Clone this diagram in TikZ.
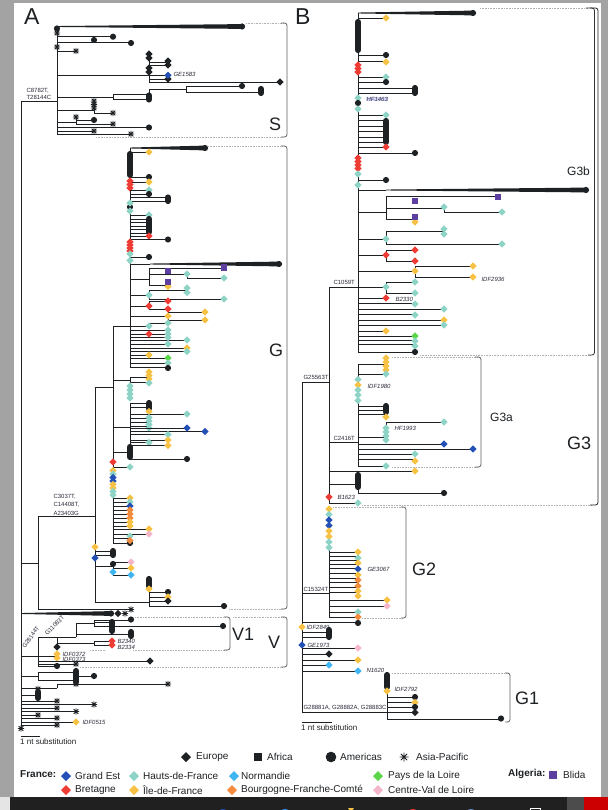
\documentclass[tikz,border=0pt]{standalone}
\usepackage{fontspec}
\setmainfont{Liberation Sans}
\definecolor{cGE}{HTML}{2350B5}
\definecolor{cHF}{HTML}{8ED4C6}
\definecolor{cNO}{HTML}{3FB5F2}
\definecolor{cPL}{HTML}{5BD64B}
\definecolor{cBR}{HTML}{EE3B34}
\definecolor{cIF}{HTML}{F7C244}
\definecolor{cBF}{HTML}{F28B3D}
\definecolor{cCV}{HTML}{F5B6C9}
\definecolor{cBL}{HTML}{5C3F9E}
\definecolor{cK}{HTML}{1E2124}
\definecolor{cTx}{HTML}{2A2A3A}
\definecolor{cFrame}{HTML}{A3A3A3}
\definecolor{cBar}{HTML}{202020}
\newcommand\qH[3]{\draw[tr] (#1,#3) -- (#2,#3);}
\newcommand\qV[3]{\draw[tr] (#1,#2) -- (#1,#3);}
\newcommand\qD[3]{\fill[#3] (#1,#2) +(0,-3.6) -- +(3.6,0) -- +(0,3.6) -- +(-3.6,0) -- cycle;}
\newcommand\qC[2]{\fill[cK] (#1,#2) circle (3.1pt);}
\newcommand\qA[2]{\draw[cK, line width=0.75pt] (#1,#2) +(-3.2,0) -- +(3.2,0) +(0,-3.2) -- +(0,3.2) +(-2.3,-2.3) -- +(2.3,2.3) +(-2.3,2.3) -- +(2.3,-2.3);}
\newcommand\qS[3]{\fill[#3] (#1,#2) +(-3.3,-3.3) rectangle +(3.3,3.3);}
\newcommand\qCS[3]{\draw[cK, line width=6.2pt, line cap=round] (#1,#2) -- (#1,#3);}
\newcommand\qDL[3]{\foreach \yy in {#2}{\qD{#1}{\yy}{#3}}}
\newcommand\qW[3]{\fill[cK] (#1,{#3-0.45}) -- (#2,{#3-2.4}) -- (#2,{#3+2.4}) -- (#1,{#3+0.45}) -- cycle; \qC{#2}{#3}}
\begin{document}
\begin{tikzpicture}[x=1pt,y=-1pt,
  tr/.style={line width=0.9pt, draw=cK},
  dt/.style={draw=gray!60, densely dotted, line width=0.6pt},
  brk/.style={draw=gray!75!black, line width=0.8pt, rounded corners=2.5pt},
  lab/.style={font=\fontsize{6}{7}\selectfont, anchor=west, inner sep=0.3pt, text=cTx},
  labi/.style={lab, font=\fontsize{6}{7}\selectfont\itshape},
  big/.style={font=\fontsize{18}{18}\selectfont, anchor=west, inner sep=0pt, text=cK},
  mid/.style={font=\fontsize{12}{12}\selectfont, anchor=west, inner sep=0pt, text=cK},
  pan/.style={font=\fontsize{23}{23}\selectfont, anchor=west, inner sep=0pt, text=cK},
  leg/.style={font=\fontsize{10}{11}\selectfont, anchor=west, inner sep=0pt, text=cK},
  scl/.style={font=\fontsize{8}{9}\selectfont, anchor=west, inner sep=0pt, text=cK}]
\useasboundingbox (0,0) rectangle (608,810);
% frame and page
\fill[cFrame] (0,0) rectangle (608,810);
\fill[white] (14,3) rectangle (601,797);
\fill[gray!20] (0,797) rectangle (10,810);
\fill[cBar] (10,797) rectangle (567,810);
\fill[gray!60!black] (567,797) rectangle (584,810);
\fill[red!80!black] (584,797) rectangle (608,810);
\begin{scope}
\clip (10,797) rectangle (608,810);
\fill[cGE] (223,815) circle (6pt);
\fill[cNO!80!blue] (285,815) circle (6pt);
\fill[cIF] (351,812) -- (348,808) -- (354,808) -- cycle;
\fill[cBR] (413,815) circle (6pt);
\fill[cGE!70!white] (471,815) circle (6pt);
\draw[white, line width=0.8pt] (530,808) rectangle (540,818);
\end{scope}
% ================= PANEL A =================
\node[pan] (tA) at (24,17) {A};
\qV{21}{101}{728}
\qH{21}{57}{101}
\node[lab] (mS1) at (26,90.5) {C8782T,};
\node[lab] (mS2) at (26,97) {T28144C};
% S clade
\qV{57}{26.5}{134}
\qW{57}{242}{26.5}
\qH{57}{113}{36.7} \qH{57}{131}{42.8}
\qC{57}{28.5} \qA{57}{33}
\qC{94}{40} \qC{113}{36.7} \qC{131}{43}
\qA{57}{47} \qH{57}{76}{51} \qA{76}{51}
\qH{57}{168}{75.3} \qV{149}{54}{82}
\qH{149}{168}{62} \qH{149}{168}{65} \qH{149}{168}{79} \qH{149}{280}{82}
\qDL{149}{54,58,68,72}{cK}
\qD{168}{61}{cK} \qD{168}{65}{cK} \qD{168}{79}{cK} \qD{280}{82}{cK}
\qD{168}{75.3}{cGE}
\node[labi] (lGE1583) at (173,74.5) {GE1583};
\qH{57}{113}{97} \qV{113}{94}{99.5}
\qH{113}{149}{94} \qH{113}{149}{99.5}
\qV{149}{89.5}{94} \qH{149}{186}{89.5} \qV{186}{86.5}{92}
\qH{186}{242}{86.5} \qH{186}{261}{92}
\qC{242}{86} \qCS{261}{89}{93} \qCS{149}{95.5}{99.5}
\qH{57}{94}{110} \qV{94}{101}{113} \qH{94}{113}{113}
\qA{94}{101} \qA{94}{104.5} \qA{94}{108} \qA{113}{113}
\qH{57}{76}{122} \qV{76}{117}{124} \qH{76}{94}{120} \qH{76}{113}{124}
\qA{76}{117} \qC{94}{120} \qA{113}{124}
\qH{57}{149}{127.5} \qC{149}{127.5}
\qH{57}{94}{131} \qA{94}{131}
\qH{57}{131}{134} \qA{131}{134}
\draw[dt] (246,23) -- (283,23);
\draw[dt] (96,137) -- (283,137);
\draw[brk] (281,23) -- (287,23) -- (287,137) -- (281,137);
\node[big] (lS) at (269,124) {S};
% C3037T node
\qH{21}{38}{563} \qV{38}{516}{609.5}
\qH{38}{95}{516}
\node[lab] (mG1) at (53,497) {C3037T,};
\node[lab] (mG2) at (53,505) {C14408T,};
\node[lab] (mG3) at (53,513) {A23403G};
\qH{38}{131}{609.5} \qA{131}{609.5}
\qW{21}{111}{613.5} \qD{118}{613.5}{cK} \qA{125}{613.5}
% G clade skeleton
\qV{95}{387}{602}
\qH{95}{113}{387}
\qV{113}{326}{543}
\qH{113}{130}{326}
\qV{130}{148}{368}
% G polytomy
\qW{130}{205}{148}
\qH{130}{149}{152} \qD{149}{152}{cIF}
\qCS{130}{154}{175}
\qH{130}{149}{177} \qC{149}{177}
\qH{130}{149}{182} \qD{149}{182}{cIF}
\qDL{130}{181,184.5,188}{cBR}
\qH{130}{149}{190} \qD{149}{190}{cHF}
\qH{130}{149}{194} \qC{149}{194}
\qH{130}{168}{197.5} \qH{130}{168}{201} \qCS{168}{197.5}{201}
\qC{130}{207}
\qDL{130}{203,211}{cHF}
\foreach \yy in {215,219,222.5,226,229.5,233,236.5}{\qH{130}{149}{\yy}}
\qD{149}{215}{cHF} \qCS{149}{219}{232} \qD{149}{236}{cBR}
\qH{130}{168}{239.5} \qC{168}{239.5}
\qDL{130}{242,245,248,251}{cBR} \qD{130}{254}{cHF}
\qH{130}{149}{257} \qC{149}{257}
\qD{130}{260.5}{cHF}
\qH{130}{150}{264} \qW{150}{279}{264}
\qH{130}{149}{279} \qV{149}{268}{285}
\qH{149}{224}{268} \qS{224}{267.5}{cBL}
\qH{149}{187}{274} \qV{187}{274}{278} \qH{187}{224}{278}
\qS{168}{271}{cBL} \qD{187}{274}{cHF} \qD{224}{278}{cHF}
\qH{149}{168}{285} \qD{168}{286.5}{cIF} \qS{168}{282}{cBL}
\qH{130}{149}{295} \qV{149}{290}{299} \qH{149}{187}{290} \qH{149}{224}{299}
\qD{149}{295}{cHF} \qD{187}{288}{cHF} \qD{187}{292.5}{cHF} \qD{224}{299}{cHF}
\qH{130}{149}{306} \qV{149}{301}{309} \qH{149}{168}{301} \qH{149}{168}{309}
\qD{149}{306}{cBR} \qD{168}{301}{cBR} \qD{168}{309}{cBR}
\qH{130}{168}{316} \qV{168}{312}{320} \qH{168}{205}{312} \qH{168}{205}{320}
\qD{168}{316}{cIF} \qD{205}{312}{cIF} \qD{205}{320}{cIF}
\qH{130}{149}{326} \qH{149}{168}{323}
\qD{149}{326}{cHF} \qD{168}{323}{cHF}
\foreach \yy in {330,334,337,344,358,363,367.5}{\qH{130}{168}{\yy}}
\qH{130}{187}{340} \qH{130}{187}{348} \qH{130}{187}{351} \qH{130}{149}{355}
\qD{149}{334}{cBR}
\qDL{168}{330,334,337.5,344}{cHF}
\qD{187}{340}{cHF} \qD{187}{348}{cIF} \qD{187}{351.5}{cHF}
\qD{149}{355}{cIF} \qD{168}{358}{cPL} \qD{168}{363}{cHF} \qC{168}{368}
% G: lower sub-groups
\qH{113}{130}{380} \qV{130}{377}{398}
\qH{130}{149}{377} \qH{130}{149}{382}
\qDL{149}{372,375.5,379}{cIF} \qD{149}{383}{cHF}
\qDL{130}{386,390,394,398}{cHF}
\qH{113}{130}{427} \qV{130}{403}{445}
\qH{130}{149}{403} \qH{130}{149}{407} \qCS{149}{403}{408.5} \qD{149}{411.5}{cIF}
\qH{130}{187}{414} \qD{187}{414}{cHF}
\qH{130}{149}{418} \qH{130}{149}{422} \qH{130}{149}{426}
\qDL{149}{417.5,421,424.5,428}{cHF}
\qH{130}{205}{431.5} \qH{130}{187}{428} \qD{187}{428}{cGE} \qD{205}{431.5}{cGE}
\qH{130}{168}{434.5} \qD{168}{434.5}{cHF}
\qH{130}{168}{440} \qD{168}{440}{cIF}
\qH{130}{149}{442.5} \qD{149}{442.5}{cHF}
\qH{130}{168}{445} \qD{168}{445.5}{cIF}
\qH{113}{130}{452} \qV{130}{452}{459}
\qCS{130}{447}{457} \qH{130}{187}{459} \qC{187}{459}
\qD{113}{462}{cBR}
\qH{113}{130}{467} \qD{130}{467}{cHF}
\qD{113}{470.5}{cIF} \qD{113}{474}{cHF} \qD{113}{477.5}{cGE} \qD{113}{481}{cGE}
\qD{113}{484.5}{cIF} \qD{113}{488}{cIF} \qD{113}{491.5}{cHF} \qD{113}{495}{cHF}
\foreach \yy in {498,502,506,510,514,518,522,526,538,543}{\qH{113}{130}{\yy}}
\qH{113}{149}{529} \qH{113}{149}{534}
\qD{130}{498}{cIF} \qD{130}{502}{cHF} \qD{130}{506}{cGE} \qD{130}{510}{cBF}
\qD{130}{514}{cBF} \qD{130}{518}{cBF} \qD{130}{522}{cIF} \qD{130}{526}{cIF}
\qD{130}{536}{cHF} \qC{130}{543} \qD{130}{540.5}{cBF}
\qD{149}{529}{cIF} \qD{149}{534}{cCV}
% G: x=95 lower
\qH{95}{113}{551} \qH{95}{113}{555} \qCS{113}{551}{555}
\qD{95}{547}{cIF} \qD{95}{558}{cGE}
\qH{95}{113}{566} \qV{113}{562}{575}
\qH{113}{131}{562} \qH{113}{131}{568} \qH{113}{131}{575}
\qC{113}{564} \qD{113}{572}{cNO}
\qD{131}{562}{cCV} \qD{131}{568}{cIF} \qD{131}{575}{cNO}
\qH{95}{149}{602} \qV{149}{578}{606}
\qCS{149}{579}{586} \qD{149}{589}{cIF}
\qH{149}{168}{592} \qH{149}{168}{597} \qH{149}{168}{601} \qH{149}{224}{606}
\qC{168}{592} \qD{168}{597}{cIF} \qD{168}{601}{cK} \qC{224}{606}
\draw[dt] (208,146) -- (283,146);
\draw[dt] (229,609) -- (283,609);
\draw[brk] (281,146) -- (287,146) -- (287,609) -- (281,609);
\node[big] (lG) at (269,350) {G};
% V clade
\qH{21}{38}{656} \qV{38}{637}{666}
\node[lab, rotate=55, anchor=base west] (mV1) at (25,649) {G28144T};
\node[lab, rotate=45, anchor=base west] (mV2) at (47,636) {G11083T};
\qH{38}{76}{637} \qV{57}{637}{647}
\qV{76}{623}{637}
\qH{76}{94}{623} \qV{94}{620}{627}
\qH{94}{131}{620} \qH{94}{112}{622.5} \qH{94}{223}{626}
\qC{131}{619.5} \qCS{112}{622}{631} \qC{223}{626}
\qH{76}{131}{634} \qCS{131}{632}{636}
\qH{57}{94}{643} \qV{94}{641}{645} \qH{94}{112}{641} \qH{94}{112}{645}
\qDL{112}{641,645}{cBR}
\node[labi] (lB2340) at (117,641) {B2340};
\node[labi] (lB2334) at (117,647) {B2334};
\qD{57}{647}{cK}
\qH{38}{57}{656}
\qDL{57}{654,658}{cIF}
\node[labi] (lI372) at (62,654) {IDF0372};
\node[labi] (lI373) at (62,659.5) {IDF0373};
\qH{38}{150}{661} \qD{150}{661}{cK}
\qH{38}{76}{664} \qA{76}{664}
\qH{38}{57}{666} \qC{57}{666}
\draw[dt] (135,617) -- (226,617);
\draw[dt] (133,650) -- (226,650);
\draw[dt] (90,650) -- (106,650);
\draw[brk] (224,617) -- (230,617) -- (230,650) -- (224,650);
\node[big] (lV1) at (232,634) {V1};
\draw[dt] (233,617) -- (283,617);
\draw[dt] (80,667) -- (283,667);
\draw[brk] (281,617) -- (287,617) -- (287,667) -- (281,667);
\node[big] (lV) at (268,642) {V};
% basal lineages
\qH{21}{38}{676} \qV{38}{672}{680}
\qH{38}{76}{672} \qH{38}{76}{680} \qCS{76}{671}{682} \qH{76}{94}{676} \qC{94}{676}
\qH{21}{57}{688} \qV{57}{684}{688} \qH{57}{168}{684} \qA{168}{684} \qA{76}{684}
\qH{21}{38}{695} \qA{38}{689} \qCS{38}{692}{698}
\qH{21}{57}{701} \qA{57}{701}
\qH{21}{94}{704.5} \qA{94}{704.5}
\qH{21}{57}{708} \qA{57}{708}
\qH{21}{76}{711.5} \qA{76}{711.5}
\qH{21}{38}{715} \qA{38}{715}
\qH{21}{57}{718} \qA{57}{718}
\qH{21}{76}{722} \qD{76}{722}{cIF}
\node[labi] (lI515) at (82,722) {IDF0515};
\qH{21}{57}{725} \qA{57}{725}
\qA{21}{728.5}
\draw[tr] (21,736) coordinate (sa1) -- (40,736) coordinate (sa2);
\node[scl] (sA) at (20,741.5) {1 nt substitution};
% ================= PANEL B =================
\node[pan] (tB) at (295,17) {B};
\qV{302}{382}{712}
\qH{302}{329}{382}
\node[lab] (mB1) at (303,377.5) {G25563T};
\qV{329}{287}{503}
\qH{329}{358}{287}
\node[lab] (mB2) at (333,282) {C1059T};
\qV{358}{13}{352}
% G3b
\qW{358}{473}{13}
\qH{358}{386}{18} \qD{386}{18}{cIF}
\qCS{358}{22}{50}
\qH{358}{386}{55} \qC{386}{55}
\qH{358}{386}{61} \qD{386}{62}{cIF}
\qDL{358}{65,68.5,72}{cBR}
\qH{358}{386}{77} \qD{386}{77}{cHF}
\qH{358}{386}{82} \qC{386}{82}
\qH{358}{415}{88} \qH{358}{415}{93} \qCS{415}{88}{93}
\qD{358}{98}{cHF} \qC{358}{103} \qD{358}{109}{cHF}
\node[labi, fill=blue!15] (lHF1463) at (366,99) {HF1463};
\foreach \yy in {115,120,126,131,137,142,147}{\qH{358}{386}{\yy}}
\qD{386}{115}{cHF} \qCS{386}{121}{142} \qD{386}{147}{cBR}
\qH{358}{415}{153} \qC{415}{153}
\qDL{358}{158,161.5,165,168.5}{cBR} \qD{358}{174}{cHF}
\qH{358}{386}{180} \qC{386}{180}
\qD{358}{185}{cHF}
\qH{358}{386}{190} \qW{386}{586}{190}
\qH{358}{386}{212} \qV{386}{196}{219}
\qH{386}{498}{196} \qS{498}{197}{cBL}
\qS{415}{201}{cBL}
\qH{386}{444}{208} \qV{444}{208}{212} \qH{444}{502}{212}
\qD{444}{207}{cHF} \qD{502}{212}{cHF}
\qH{386}{415}{219} \qD{415}{222}{cIF} \qS{415}{217}{cBL}
\qH{358}{386}{239} \qV{386}{231}{244} \qH{386}{444}{231} \qH{386}{502}{244}
\qD{386}{239}{cHF} \qD{444}{229}{cHF} \qD{444}{234}{cHF} \qD{502}{244}{cHF}
\qH{358}{386}{255} \qV{386}{250}{261} \qH{386}{415}{250} \qH{386}{415}{261}
\qD{386}{255}{cBR} \qD{415}{250}{cBR} \qD{415}{261}{cBR}
\qH{358}{415}{271} \qV{415}{266}{277} \qH{415}{473}{266} \qH{415}{473}{277}
\qD{415}{271}{cIF} \qD{473}{266}{cIF} \qD{473}{277}{cIF}
\node[labi] (lIDF2936) at (481,279) {IDF2936};
\qH{358}{386}{287} \qV{386}{282}{293} \qH{386}{415}{282} \qH{386}{415}{293}
\qD{386}{287}{cHF} \qD{415}{282}{cHF} \qD{415}{293}{cHF}
\qH{358}{386}{298} \qD{386}{298}{cBR}
\node[labi] (lB2330) at (395,299.5) {B2330};
\qH{358}{415}{303.5} \qD{415}{304}{cHF}
\qH{358}{444}{309} \qD{444}{309}{cHF}
\qH{358}{415}{314.5} \qD{415}{315}{cHF}
\qH{358}{444}{320} \qD{444}{320}{cIF}
\qH{358}{444}{325} \qD{444}{325}{cHF}
\qH{358}{386}{331} \qD{386}{331}{cIF}
\qH{358}{415}{336} \qD{415}{336}{cPL}
\qH{358}{415}{340} \qH{358}{415}{344} \qD{415}{341}{cHF} \qD{415}{346}{cHF}
\qH{358}{415}{352} \qC{415}{352}
\draw[dt] (480,8) -- (588,8);
\draw[dt] (420,355) -- (590,355);
\draw[brk, draw=gray!40!black] (586,8) -- (594.5,8) -- (594.5,355) -- (588,355);
\node[mid] (lG3b) at (567,171) {G3b};
\draw[dt] (362,505) -- (592,505);
\draw[brk, draw=cK] (590,8) -- (598,8) -- (598,505) -- (590,505);
\node[big] (lG3) at (567,443) {G3};
% G3a
\qV{358}{364}{466}
\qH{329}{358}{442}
\node[lab] (mB3) at (333,438) {C2416T};
\qH{358}{386}{364} \qH{358}{386}{374}
\qDL{386}{358,362,366,370}{cIF} \qD{386}{374}{cHF}
\qD{358}{379.5}{cHF} \qD{358}{385}{cIF} \qDL{358}{390,395,400.5}{cHF}
\node[labi] (lIDF1980) at (367,386) {IDF1980};
\qH{358}{386}{406} \qH{358}{386}{410} \qH{358}{386}{414}
\qCS{386}{406}{412} \qD{386}{417}{cIF}
\qH{358}{386}{437} \qV{386}{422}{441} \qH{386}{444}{422} \qD{444}{422}{cHF}
\qDL{386}{428,432,436,440}{cHF}
\node[labi] (lHF1993) at (394,428) {HF1993};
\qH{358}{444}{444} \qD{444}{444}{cGE}
\qH{358}{473}{449} \qD{473}{449}{cGE}
\qH{358}{415}{454} \qD{415}{454}{cHF}
\qH{358}{415}{459} \qD{415}{461}{cIF}
\qH{358}{386}{466} \qD{386}{466}{cHF}
\draw[dt] (392,357) -- (477,357);
\draw[dt] (392,467) -- (477,467);
\draw[brk] (475,357) -- (481,357) -- (481,467) -- (475,467);
\node[mid] (lG3a) at (490,417) {G3a};
\qH{329}{415}{471} \qD{415}{471}{cIF}
\qH{329}{358}{484} \qV{358}{476}{493} \qCS{358}{475}{487}
\qH{358}{444}{493} \qC{444}{493}
\qD{329}{497}{cBR}
\node[labi] (lB1623) at (337,497) {B1623};
\qH{329}{358}{503} \qD{358}{503}{cHF}
% G2
\qH{302}{329}{593}
\node[lab] (mB4) at (303,589) {C15324T};
\qV{329}{509}{617}
\foreach \yy in {552,556,560,564,568,573,578,582,587,592,612,617}{\qH{329}{358}{\yy}}
\qH{329}{387}{600} \qH{329}{387}{606}
\qD{329}{509}{cIF} \qD{329}{514.5}{cHF} \qD{329}{520}{cGE} \qD{329}{525.5}{cGE}
\qD{329}{531}{cIF} \qD{329}{536.5}{cIF} \qD{329}{542}{cHF} \qD{329}{547.5}{cHF}
\qD{358}{552}{cIF} \qD{358}{558}{cHF} \qD{358}{563}{cIF} \qD{358}{569}{cGE}
\qD{358}{575}{cIF} \qD{358}{580}{cBF} \qD{358}{586}{cBF} \qD{358}{591}{cIF}
\qD{358}{596}{cIF}
\node[labi] (lGE3067) at (367,569) {GE3067};
\qD{387}{600}{cIF} \qD{387}{606}{cCV}
\qD{358}{612}{cHF} \qD{358}{617}{cBF}
\draw[dt] (333,507) -- (403,507);
\draw[dt] (362,618) -- (403,618);
\draw[brk] (401,507) -- (406,507) -- (406,618) -- (401,618);
\node[big] (lG2) at (412,569) {G2};
% basal B
\qH{302}{358}{622} \qC{358}{623}
\qD{302}{627}{cIF}
\node[labi] (lIDF2849) at (306,627) {IDF2849};
\qH{302}{329}{632} \qH{302}{329}{637} \qCS{329}{630}{637}
\qD{302}{645}{cGE}
\node[labi] (lGE1973) at (307,645) {GE1973};
\qH{302}{358}{648} \qD{358}{648}{cCV}
\qH{302}{329}{654} \qD{329}{654}{cK}
\qH{302}{358}{660} \qD{358}{660}{cIF}
\qH{302}{329}{665} \qD{329}{665}{cNO}
\qH{302}{358}{671} \qD{358}{671}{cNO}
\node[labi] (lN1620) at (366,670) {N1620};
% G1
\qH{302}{387}{712}
\node[lab] (mB5) at (303,708) {G28881A, G28882A, G28883C};
\qV{387}{675}{719}
\qCS{387}{675}{687} \qD{387}{691}{cIF}
\node[labi] (lIDF2792) at (394,689) {IDF2792};
\qH{387}{415}{697} \qH{387}{415}{702} \qH{387}{415}{707} \qH{387}{415}{712}
\qC{415}{697} \qD{415}{702.5}{cIF} \qC{415}{707} \qD{415}{712.5}{cK}
\qH{387}{501}{719} \qC{501}{718.5}
\draw[dt] (392,673) -- (507,673);
\draw[brk] (505,673) -- (510,673) -- (510,722) -- (505,722);
\node[big] (lG1) at (515,698) {G1};
\draw[tr] (302,722) coordinate (sb1) -- (332,722) coordinate (sb2);
\node[scl] (sB) at (301,728) {1 nt substitution};
% ================= LEGEND =================
\fill[cK] (186,757) +(0,-5) -- +(5,0) -- +(0,5) -- +(-5,0) -- cycle;
\node[leg] (eEU) at (196,757) {Europe};
\fill[cK] (258,757) +(-4,-4) rectangle +(4,4);
\node[leg] (eAF) at (267,757) {Africa};
\fill[cK] (331,757) circle (5.3pt);
\node[leg] (eAM) at (340,757) {Americas};
\draw[cK, line width=0.8pt] (404,757) +(-4.5,0) -- +(4.5,0) +(0,-4.5) -- +(0,4.5) +(-3.2,-3.2) -- +(3.2,3.2) +(-3.2,3.2) -- +(3.2,-3.2);
\node[leg] (eAP) at (416,757) {Asia-Pacific};
\node[leg, font=\fontsize{10}{11}\selectfont\bfseries] (eFR) at (20,774) {France:};
\node[leg, font=\fontsize{10}{11}\selectfont\bfseries] (eDZ) at (508,774) {Algeria:};
\fill[cGE] (66,776) +(0,-5) -- +(5,0) -- +(0,5) -- +(-5,0) -- cycle;
\node[leg] (e1) at (75,776) {Grand Est};
\fill[cHF] (134,776) +(0,-5) -- +(5,0) -- +(0,5) -- +(-5,0) -- cycle;
\node[leg] (e2) at (143,776) {Hauts-de-France};
\fill[cNO] (234,776) +(0,-5) -- +(5,0) -- +(0,5) -- +(-5,0) -- cycle;
\node[leg] (e3) at (241,776) {Normandie};
\fill[cPL] (378,776) +(0,-5) -- +(5,0) -- +(0,5) -- +(-5,0) -- cycle;
\node[leg] (e4) at (388,776) {Pays de la Loire};
\fill[cBL] (553,775) +(-4,-4) rectangle +(4,4);
\node[leg] (e5) at (563,775) {Blida};
\fill[cBR] (66,790) +(0,-5) -- +(5,0) -- +(0,5) -- +(-5,0) -- cycle;
\node[leg] (e6) at (75,790) {Bretagne};
\fill[cIF] (134,790) +(0,-5) -- +(5,0) -- +(0,5) -- +(-5,0) -- cycle;
\node[leg] (e7) at (143,790) {Île-de-France};
\fill[cBF] (232,790) +(0,-5) -- +(5,0) -- +(0,5) -- +(-5,0) -- cycle;
\node[leg] (e8) at (241,790) {Bourgogne-Franche-Comté};
\fill[cCV] (378,790) +(0,-5) -- +(5,0) -- +(0,5) -- +(-5,0) -- cycle;
\node[leg] (e9) at (388,790) {Centre-Val de Loire};
\end{tikzpicture}
\end{document}
